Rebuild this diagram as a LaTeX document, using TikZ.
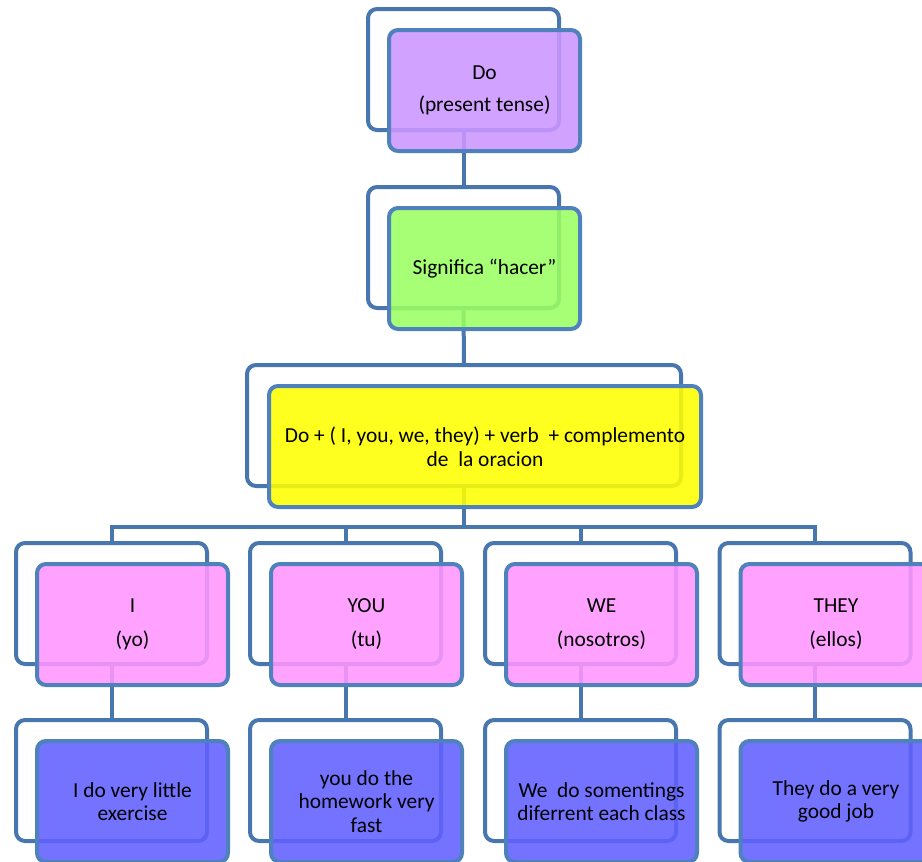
\documentclass[tikz,border=0pt]{standalone}
\usepackage{fontspec}
\setmainfont{Carlito}
\usepackage{tikz}
\definecolor{boxedge}{RGB}{79,129,189}
\definecolor{backedge}{RGB}{72,118,174}
\definecolor{lilac}{RGB}{203,150,255}
\definecolor{lightgreen}{RGB}{154,255,98}
\definecolor{brightyellow}{RGB}{255,255,0}
\definecolor{lightpink}{RGB}{255,150,255}
\definecolor{periwinkle}{RGB}{96,96,255}
\tikzset{
    backbox/.style={draw=backedge, line width=4pt, rounded corners=9pt, fill=white,
        minimum width=191pt, minimum height=121pt, inner sep=0pt},
    frontbox/.style={draw=boxedge, line width=4pt, rounded corners=9pt,
        fill opacity=0.88, text opacity=1, draw opacity=1,
        minimum width=191pt, minimum height=121pt, inner sep=0pt, align=center,
        font=\fontsize{21.4}{23.5}\selectfont},
    link/.style={draw=backedge, line width=4pt},
}

\begin{document}
\begin{tikzpicture}[x=1pt, y=-1pt]
        \useasboundingbox (0,0) rectangle (922,862);
        % outline boxes behind
        \node[backbox] (doB) at (463.5,69.5) {};
        \node[backbox] (sigB) at (463.5,247.5) {};
        \node[backbox, minimum width=434pt] (formB) at (464,425.5) {};
        \node[backbox] (yoB) at (111.5,603.5) {};
        \node[backbox] (tuB) at (345.5,603.5) {};
        \node[backbox] (nosB) at (580.5,603.5) {};
        \node[backbox] (ellB) at (815,603.5) {};
        \node[backbox] (exB) at (111.5,780.5) {};
        \node[backbox] (hwB) at (345.5,780.5) {};
        \node[backbox] (clB) at (580.5,780.5) {};
        \node[backbox] (jobB) at (815,780.5) {};
        % connectors
        \draw[link] (doB.south) -- (sigB.north);
        \draw[link] (sigB.south) -- (formB.north);
        \foreach \c in {yoB,tuB,nosB,ellB}
            \draw[link] (formB.south) -- ++(0,39) -| (\c.north);
        \draw[link] (yoB.south) -- (exB.north);
        \draw[link] (tuB.south) -- (hwB.north);
        \draw[link] (nosB.south) -- (clB.north);
        \draw[link] (ellB.south) -- (jobB.north);
        % coloured boxes in front
        \node[frontbox, fill=lilac] (do) at ([shift={(21,21)}]doB.center) {Do\\[8.5pt](present tense)};
        \node[frontbox, fill=lightgreen] (sig) at ([shift={(21,21)}]sigB.center) {Significa “hacer”};
        \node[frontbox, fill=brightyellow, minimum width=432pt] (form) at ([shift={(21,21)}]formB.center)
            {Do + ( I, you, we, they) + verb\ \ + complemento\\de\ \ la oracion};
        \node[frontbox, fill=lightpink] (yo) at ([shift={(21,21)}]yoB.center) {I\\[10.5pt](yo)};
        \node[frontbox, fill=lightpink] (tu) at ([shift={(21,21)}]tuB.center) {YOU\\[10.5pt](tu)};
        \node[frontbox, fill=lightpink] (nos) at ([shift={(21,21)}]nosB.center) {WE\\[10.5pt](nosotros)};
        \node[frontbox, fill=lightpink] (ell) at ([shift={(21,21)}]ellB.center) {THEY\\[10.5pt](ellos)};
        \node[frontbox, fill=periwinkle] (ex) at ([shift={(21,21)}]exB.center) {I do very little\\exercise};
        \node[frontbox, fill=periwinkle] (hw) at ([shift={(21,21)}]hwB.center) {you do the\\homework very\\fast};
        \node[frontbox, fill=periwinkle] (cl) at ([shift={(21,21)}]clB.center) {We\ \ do somentings\\diferrent each class};
        \node[frontbox, fill=periwinkle] (job) at ([shift={(21,21)}]jobB.center) {They do a very\\good job};
\end{tikzpicture}
\end{document}
